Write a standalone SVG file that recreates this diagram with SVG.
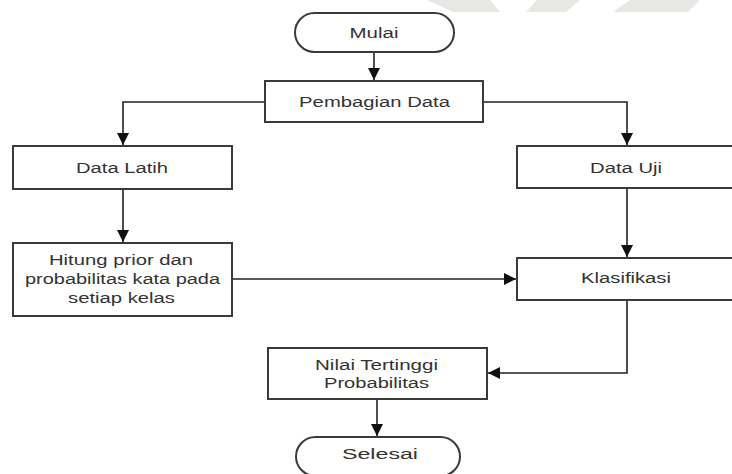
<svg xmlns="http://www.w3.org/2000/svg" width="732" height="474" viewBox="0 0 732 474">
<defs>
<style>
.box{fill:#fff;stroke:#3a3a3a;stroke-width:2}
.lbl{font-family:"Liberation Sans",Arial,sans-serif;font-size:15.5px;fill:#333;text-anchor:middle}
.con{fill:none;stroke:#222;stroke-width:1.6}
.wm{fill:#e5e8e3}
</style>
<marker id="arr" markerUnits="userSpaceOnUse" markerWidth="12" markerHeight="12" viewBox="0 0 10 10" refX="10" refY="5" orient="auto">
<path d="M0,0 L10,5 L0,10 z" fill="#111"/>
</marker>
</defs>
<rect width="732" height="474" fill="#fff"/>
<g id="watermark">
<polygon class="wm" points="427,0 490,0 500,12 453,12"/>
<polygon class="wm" points="537,0 580,0 566,12 526,12"/>
<polygon class="wm" points="630,0 700,0 688,12 613,12"/>
</g>
<g id="connectors">
<path class="con" d="M374,52 V80" marker-end="url(#arr)"/>
<path class="con" d="M265,102 H123 V145" marker-end="url(#arr)"/>
<path class="con" d="M483,102 H627 V145" marker-end="url(#arr)"/>
<path class="con" d="M123,189 V242" marker-end="url(#arr)"/>
<path class="con" d="M627,188 V257" marker-end="url(#arr)"/>
<path class="con" d="M232,279 H516" marker-end="url(#arr)"/>
<path class="con" d="M627,300 V373 H488" marker-end="url(#arr)"/>
<path class="con" d="M377,399 V436" marker-end="url(#arr)"/>
</g>
<g id="mulai">
<rect class="box" x="295" y="13" width="159" height="39" rx="19.5"/>
<text class="lbl" transform="translate(374,38) scale(1.3,1)" textLength="37.7" lengthAdjust="spacingAndGlyphs">Mulai</text>
</g>
<g id="pembagian">
<rect class="box" x="265" y="81" width="218" height="41"/>
<text class="lbl" transform="translate(374.5,107) scale(1.3,1)" textLength="116" lengthAdjust="spacingAndGlyphs">Pembagian Data</text>
</g>
<g id="data-latih">
<rect class="box" x="13" y="146" width="219" height="43"/>
<text class="lbl" transform="translate(122,173) scale(1.3,1)" textLength="70.8" lengthAdjust="spacingAndGlyphs">Data Latih</text>
</g>
<g id="hitung">
<rect class="box" x="13" y="243" width="219" height="73"/>
<text class="lbl" transform="translate(121,265) scale(1.3,1)" textLength="110.8" lengthAdjust="spacingAndGlyphs">Hitung prior dan</text>
<text class="lbl" transform="translate(122.5,284) scale(1.3,1)" textLength="150" lengthAdjust="spacingAndGlyphs">probabilitas kata pada</text>
<text class="lbl" transform="translate(121.5,303) scale(1.3,1)" textLength="82.3" lengthAdjust="spacingAndGlyphs">setiap kelas</text>
</g>
<g id="data-uji">
<rect class="box" x="517" y="146" width="219" height="42"/>
<text class="lbl" transform="translate(626,173) scale(1.3,1)" textLength="55.4" lengthAdjust="spacingAndGlyphs">Data Uji</text>
</g>
<g id="klasifikasi">
<rect class="box" x="517" y="258" width="219" height="42"/>
<text class="lbl" transform="translate(626,283) scale(1.3,1)" textLength="69.2" lengthAdjust="spacingAndGlyphs">Klasifikasi</text>
</g>
<g id="nilai">
<rect class="box" x="268" y="348" width="219" height="51"/>
<text class="lbl" transform="translate(376.5,370) scale(1.3,1)" textLength="94.6" lengthAdjust="spacingAndGlyphs">Nilai Tertinggi</text>
<text class="lbl" transform="translate(376.5,388) scale(1.3,1)" textLength="80.8" lengthAdjust="spacingAndGlyphs">Probabilitas</text>
</g>
<g id="selesai">
<rect class="box" x="296" y="437" width="164" height="39" rx="19.5"/>
<text class="lbl" transform="translate(380,459) scale(1.3,1)" textLength="58.5" lengthAdjust="spacingAndGlyphs">Selesai</text>
</g>
</svg>
